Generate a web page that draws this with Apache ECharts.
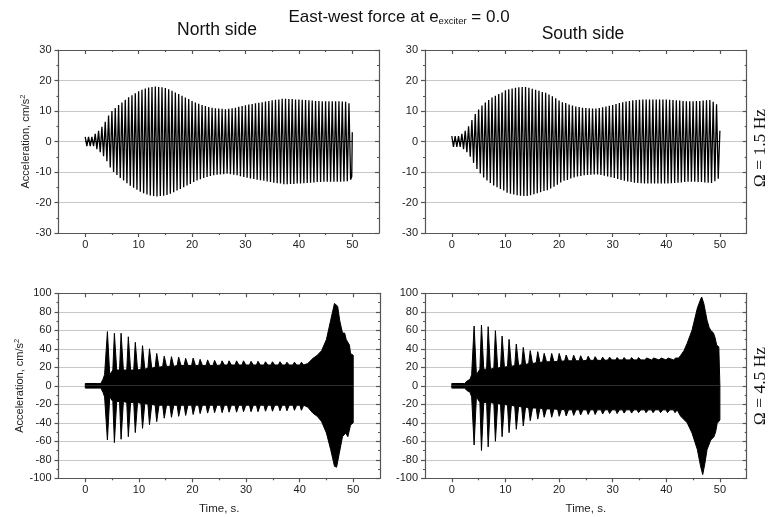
<!DOCTYPE html>
<html>
<head>
<meta charset="utf-8">
<script src="https://cdn.jsdelivr.net/npm/echarts@6/dist/echarts.min.js"></script>
<style>
html, body { margin: 0; padding: 0; background: #fff; }
#chart { width: 769px; height: 517px; }
</style>
</head>
<body>
<div id="chart"></div>
<script>
// 1.5 Hz records: one peak amplitude per cycle
const period = 0.625;
const northAmp = [1.5, 1.5, 1.5, 2.5, 3.5, 4.8, 6.5, 8.5, 10, 11,
  12, 12.8, 13.7, 14.5, 15.2, 15.8, 16.5, 17, 17.4, 17.7,
  17.9, 18, 17.9, 17.8, 17.5, 17.1, 16.6, 16.1, 15.6, 15,
  14.4, 13.9, 13.3, 12.8, 12.4, 12, 11.6, 11.3, 11.1, 10.9,
  10.8, 10.7, 10.6, 10.7, 10.9, 11.1, 11.4, 11.6, 11.9, 12.1,
  12.3, 12.5, 12.7, 12.9, 13.1, 13.3, 13.5, 13.7, 13.8, 14,
  14, 13.9, 13.9, 13.8, 13.8, 13.7, 13.6, 13.5, 13.4, 13.3,
  13.3, 13.2, 13.2, 13.2, 13.2, 13.2, 13.2, 13.1, 13, 12.5];
const southAmp = [1.8, 1.8, 1.8, 2.5, 3.5, 5, 7, 9, 10.5, 11.8,
  12.8, 13.6, 14.4, 15, 15.6, 16.1, 16.8, 17.1, 17.4, 17.6,
  17.8, 17.9, 17.9, 17.6, 17.3, 17, 16.6, 16.2, 16, 15.4,
  14.8, 14.2, 13.4, 12.9, 12.6, 12.1, 11.8, 11.5, 11.3, 11.1,
  11, 10.9, 10.8, 10.8, 11, 11.2, 11.5, 11.7, 12, 12.3,
  12.6, 12.9, 13.1, 13.3, 13.5, 13.6, 13.7, 13.8, 13.8, 13.8,
  13.8, 13.8, 13.8, 13.8, 13.8, 13.7, 13.6, 13.5, 13.4, 13.3,
  13.2, 13.2, 13.2, 13.3, 13.3, 13.4, 13.5, 13.6, 13, 12.2];
const northEnd = [[49.9, -11.5], [50, 3]];
const southEnd = [[49.9, -12], [50, 3.5]];
const zeroLine = [[0, 0], [50, 0]];

// 4.5 Hz records: beat spikes of the envelope and the level between them
const spikeHalf = 0.36;
const spikeTop = 0.07;
const nSpikeT = [4.2, 5.5, 6.75, 8.1, 9.4, 10.75, 12.05, 13.4, 14.8, 16.15, 17.5, 18.8, 20.2, 21.5,
  22.9, 24.2, 25.6, 26.9, 28.3, 29.6, 31.0, 32.3, 33.7, 35.0, 36.4, 37.7, 39.1, 40.4];
const nSpikeTop = [58.6, 56.8, 56.8, 53, 47, 43.4, 40, 35, 32, 31.5, 31, 29.7, 30, 28.6,
  28, 27.5, 27, 27, 27, 27, 26.5, 26.5, 26, 26, 26, 25.5, 25.5, 25.5];
const nSpikeBot = [-58.6, -61.4, -57.8, -55, -50.6, -46, -42, -38.7, -35, -34, -33, -32, -31, -30,
  -29.5, -29, -29, -28.5, -28.5, -28, -28, -28, -27.5, -27.5, -27, -27, -26.5, -26.5];
const nValTop = [12, 17, 17, 17, 17, 18, 19, 20, 21, 21, 22, 22, 22, 22,
  22, 22, 22.5, 22.5, 22.5, 22.5, 22.5, 22.5, 22.5, 22.5, 22.5, 22.5, 22.5, 22.5];
const nValBot = [-12, -17, -17, -18, -18, -19, -20, -21, -21, -21, -21, -21, -21, -21,
  -21, -21, -21, -21, -21, -21, -21, -21, -21, -21, -21, -21, -21, -21];
const nStartTop = [[0, 2.5], [2.3, 2.5], [2.6, 4], [2.9, 2.5], [3.3, 7], [3.6, 12]];
const nStartBot = [[0, -2.5], [2.3, -2.5], [2.6, -4], [2.9, -2.5], [3.3, -7], [3.6, -12]];
const nEndTop = [[41.5, 24], [42.5, 29.7], [43.3, 33], [44.1, 38], [45, 50], [45.8, 71], [46.5, 89],
  [46.8, 90], [47.1, 86], [47.5, 70], [48, 57], [48.4, 57], [48.7, 50], [49, 49.5], [49.3, 44],
  [49.5, 35], [49.8, 33], [50, 33], [50, 0]];
const nEndBot = [[41.5, -23], [42.5, -29.7], [43.3, -33], [44.1, -38.7], [45, -51], [45.8, -69],
  [46.5, -87], [46.9, -88], [47.4, -73], [48, -55], [48.6, -51], [49, -55], [49.5, -42.5],
  [50, -40], [50, 0]];

const sSpikeT = [4.23, 5.6, 6.85, 8.2, 9.45, 10.75, 12.1, 13.4, 14.7, 16.1, 17.3, 18.7, 20.1, 21.4,
  22.8, 24.1, 25.5, 26.8, 28.2, 29.5, 30.9, 32.2, 33.6, 34.9, 36.3, 37.6, 39.0, 40.3, 41.7];
const sSpikeTop = [64.6, 65.7, 63.9, 59.6, 53.8, 50.2, 45.2, 41.5, 38, 36.9, 35.1, 35, 35, 33.3,
  33, 32.5, 32, 31.5, 31, 31, 30.5, 30.5, 30.5, 30.5, 30, 30, 30, 30, 30];
const sSpikeBot = [-64, -70, -66, -60, -55, -50.7, -47, -43.4, -37.7, -36, -34, -34, -33, -32.6,
  -32, -31.5, -31, -31, -30.5, -30, -30, -29.5, -29.5, -29, -29, -29, -29, -29, -29];
const sValTop = [12, 18, 18, 19, 20, 21, 22, 23, 24, 25, 26, 26, 26.5, 27,
  27, 27, 27.5, 27.5, 27.5, 28, 28, 28, 28, 28, 28, 28, 28, 28, 28];
const sValBot = [-12, -18, -18, -19, -20, -21, -22, -23, -24, -24, -25, -25, -25.5, -26,
  -26, -26, -26, -26, -26, -26, -26, -26, -26, -26, -26, -26, -26, -26, -26];
const sStartTop = [[0, 2.5], [2.4, 2.5], [2.8, 5], [3.1, 4], [3.4, 7], [3.7, 12]];
const sStartBot = [[0, -2.5], [2.4, -2.5], [2.8, -5], [3.1, -4], [3.4, -7], [3.7, -12]];
const sEndTop = [[42.3, 30], [42.7, 33], [43.3, 38], [43.9, 46], [44.8, 60], [45.8, 84], [46.3, 92],
  [46.6, 96], [47.0, 89], [47.3, 80], [47.6, 71], [48, 63], [48.3, 60], [48.8, 57], [49.1, 52],
  [49.4, 44], [49.8, 42], [50, 42], [50, 0]];
const sEndBot = [[42.3, -29], [42.7, -33], [43.9, -40], [44.8, -51], [45.8, -69], [46.4, -87],
  [46.8, -96], [47.2, -84], [47.6, -69], [48.3, -58.6], [48.9, -55], [49.2, -50], [49.5, -40.5],
  [50, -37], [50, 0]];

const xMajor = [0, 10, 20, 30, 40, 50];
const xMinor = [5, 15, 25, 35, 45];

const font = 'Liberation Sans, Arial, sans-serif';
const serif = 'Liberation Serif, Times New Roman, serif';
const frame = { color: '#555', width: 1.2 };

function zigzag(amp, end) {
  const pts = [];
  amp.forEach((a, i) => {
    const t = i * period;
    pts.push([t, a], [t + period / 2, -a]);
  });
  return pts.concat(end);
}

function envelope(start, t, peak, valley, end) {
  const pts = [[0, 0]].concat(start);
  t.forEach((x, i) => {
    pts.push([x - spikeHalf, valley[i]], [x - spikeTop, peak[i]],
      [x + spikeTop, peak[i]], [x + spikeHalf, valley[i]]);
  });
  return pts.concat(end);
}

const grids = [
  { left: 58.5, top: 50, width: 320.5, height: 183 },
  { left: 425, top: 50, width: 321.7, height: 183 },
  { left: 58.5, top: 293.3, width: 321.5, height: 185 },
  { left: 425, top: 293.3, width: 321.7, height: 185 }
];

function xAxesFor(g, withName) {
  const base = { gridIndex: g, type: 'value', min: -5, max: 55, splitLine: { show: false } };
  return [
    Object.assign({}, base, {
      position: 'bottom',
      axisLine: { show: true, onZero: false, lineStyle: frame },
      axisTick: { show: true, customValues: xMajor, length: 4, lineStyle: frame },
      axisLabel: { customValues: xMajor, margin: 6, fontSize: 11, color: '#222', fontFamily: font },
      name: withName ? 'Time, s.' : '',
      nameLocation: 'middle', nameGap: 25,
      nameTextStyle: { fontSize: 11.5, color: '#222', fontFamily: font }
    }),
    Object.assign({}, base, {
      position: 'bottom',
      axisLine: { show: false, onZero: false },
      axisTick: { show: true, customValues: xMinor, length: 2, lineStyle: frame },
      axisLabel: { show: false }
    }),
    Object.assign({}, base, {
      position: 'top',
      axisLine: { show: true, onZero: false, lineStyle: frame },
      axisTick: { show: true, inside: true, customValues: xMajor, length: 4, lineStyle: frame },
      axisLabel: { show: false }
    }),
    Object.assign({}, base, {
      position: 'top',
      axisLine: { show: false, onZero: false },
      axisTick: { show: true, inside: true, customValues: xMinor, length: 2, lineStyle: frame },
      axisLabel: { show: false }
    })
  ];
}

function yAxesFor(g, lim, step, withName) {
  const base = { gridIndex: g, type: 'value', min: -lim, max: lim, interval: step };
  return [
    Object.assign({}, base, {
      position: 'left',
      axisLine: { show: true, onZero: false, lineStyle: frame },
      axisTick: { show: true, length: 4, lineStyle: frame },
      minorTick: { show: true, splitNumber: 2, length: 2, lineStyle: frame },
      splitLine: { show: true, lineStyle: { color: '#c8c8c8', width: 1 } },
      axisLabel: { margin: 7, fontSize: 11, color: '#222', fontFamily: font },
      name: withName ? '{a|Acceleration, cm/s}{b|2}' : '',
      nameLocation: 'middle', nameGap: 27, nameRotate: 90,
      nameTextStyle: {
        rich: {
          a: { fontSize: 11, color: '#222', fontFamily: font, verticalAlign: 'bottom', lineHeight: 13 },
          b: { fontSize: 7.5, color: '#222', fontFamily: font, verticalAlign: 'top', lineHeight: 13 }
        }
      }
    }),
    Object.assign({}, base, {
      position: 'right',
      axisLine: { show: true, onZero: false, lineStyle: frame },
      axisTick: { show: true, inside: true, length: 4, lineStyle: frame },
      minorTick: { show: true, splitNumber: 2, length: 2, lineStyle: frame },
      splitLine: { show: false },
      axisLabel: { show: false }
    })
  ];
}

const xAxis = [].concat(xAxesFor(0, false), xAxesFor(1, false), xAxesFor(2, true), xAxesFor(3, true));
const yAxis = [].concat(yAxesFor(0, 30, 10, true), yAxesFor(1, 30, 10, false),
  yAxesFor(2, 100, 20, true), yAxesFor(3, 100, 20, false));

function trace(g, data, width) {
  return {
    type: 'line', xAxisIndex: g * 4, yAxisIndex: g * 2, data: data,
    symbol: 'none', silent: true, animation: false,
    lineStyle: { color: '#000', width: width }
  };
}

function filled(g, data) {
  const s = trace(g, data, 1);
  s.areaStyle = { color: '#000', opacity: 1, origin: 0 };
  return s;
}

const series = [
  trace(0, zigzag(northAmp, northEnd), 1.3),
  trace(0, zeroLine, 1.2),
  trace(1, zigzag(southAmp, southEnd), 1.3),
  trace(1, zeroLine, 1.2),
  filled(2, envelope(nStartTop, nSpikeT, nSpikeTop, nValTop, nEndTop)),
  filled(2, envelope(nStartBot, nSpikeT, nSpikeBot, nValBot, nEndBot)),
  filled(3, envelope(sStartTop, sSpikeT, sSpikeTop, sValTop, sEndTop)),
  filled(3, envelope(sStartBot, sSpikeT, sSpikeBot, sValBot, sEndBot))
];

function label(x, y, text, size, family, rotation, rich) {
  return {
    type: 'text', x: x, y: y, rotation: rotation || 0, silent: true,
    style: {
      text: text, fontSize: size, fontFamily: family, fill: '#111',
      textAlign: 'center', textVerticalAlign: 'middle', rich: rich
    }
  };
}

const chart = echarts.init(document.getElementById('chart'));
chart.setOption({
  backgroundColor: '#fff',
  animation: false,
  grid: grids,
  xAxis: xAxis,
  yAxis: yAxis,
  series: series,
  graphic: [
    label(399, 16, '{a|East-west force at e}{s|exciter}{a| = 0.0}', 17, font, 0, {
      a: { fontSize: 17, fontFamily: font, color: '#111', verticalAlign: 'bottom', lineHeight: 20 },
      s: { fontSize: 9.5, fontFamily: font, color: '#111', verticalAlign: 'bottom', lineHeight: 20 }
    }),
    label(217, 30, 'North side', 17.5, font),
    label(583, 34, 'South side', 17.5, font),
    label(760, 148, 'Ω = 1.5 Hz', 17.5, serif, Math.PI / 2),
    label(760, 386, 'Ω = 4.5 Hz', 17.5, serif, Math.PI / 2)
  ]
});
</script>
</body>
</html>
